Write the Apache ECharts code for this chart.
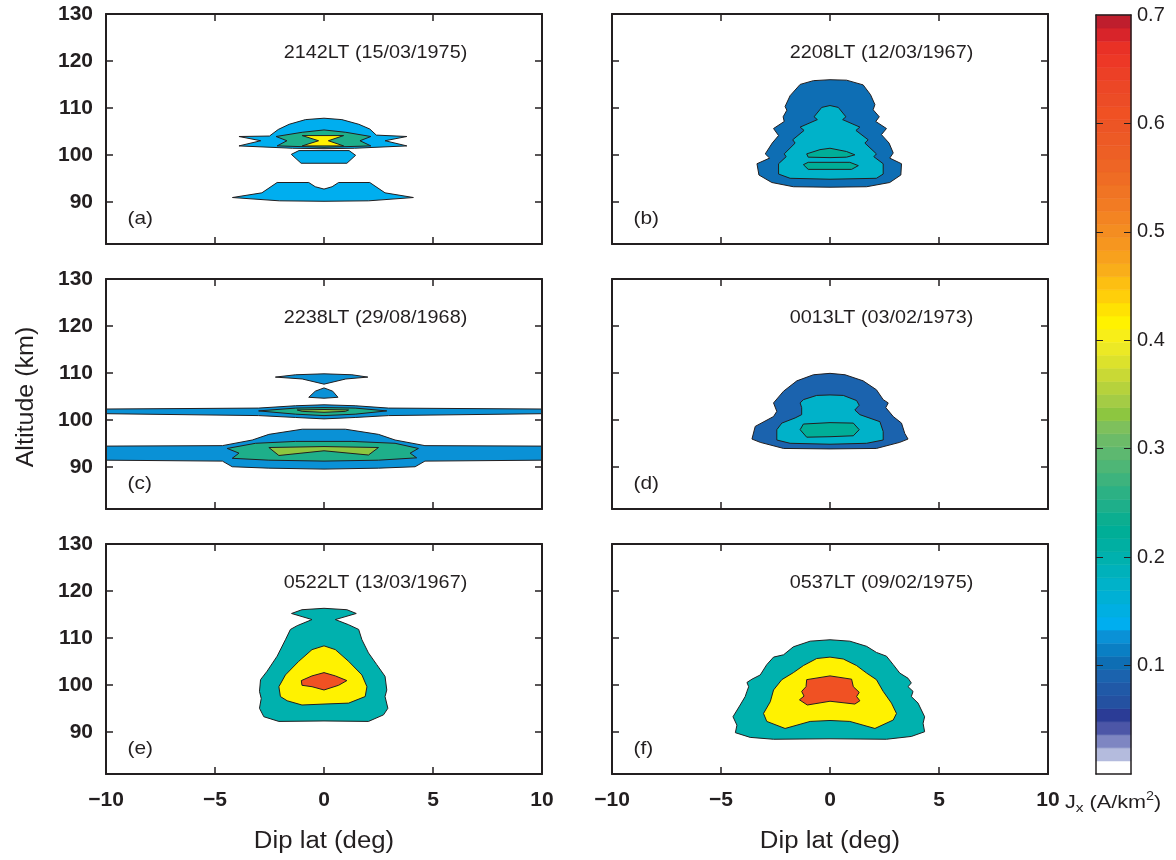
<!DOCTYPE html>
<html>
<head>
<meta charset="utf-8">
<script src="https://cdn.jsdelivr.net/npm/echarts@6/dist/echarts.min.js"></script>
<style>
  html, body { margin: 0; padding: 0; background: #ffffff; }
  #chart { width: 1176px; height: 860px; }
</style>
</head>
<body>
<div id="chart"></div>
<script>
// ---- Labels and ticks ----
const panelTitles = [
  '2142LT (15/03/1975)', '2208LT (12/03/1967)',
  '2238LT (29/08/1968)', '0013LT (03/02/1973)',
  '0522LT (13/03/1967)', '0537LT (09/02/1975)'
];
const panelTags = ['(a)', '(b)', '(c)', '(d)', '(e)', '(f)'];
const latTicks = [-5, 0, 5];
const altTicks = [90, 100, 110, 120];
const altLabels = [90, 100, 110, 120, 130];
const jxTicks = [0.1, 0.2, 0.3, 0.4, 0.5, 0.6];
const jxLabels = [0.1, 0.2, 0.3, 0.4, 0.5, 0.6, 0.7];
const jxMax = 0.7;
const jxBandCount = 58;

// Colour table of the Jx scale, one entry per band (low to high)
const jxPalette = [
  '#ffffff', '#b4bbdd', '#7e86c2', '#4c56a7', '#2b3c96', '#2451a1', '#2059a7', '#1b63ae',
  '#0e6eb4', '#0a7fc4', '#0a91d6', '#00aeef', '#00afe2', '#00b0d5', '#00b2c9', '#00b1bb',
  '#00b1ae', '#00afa2', '#00ae97', '#0cae90', '#1eaf8a', '#2cb184', '#3db37d', '#4eb676',
  '#5db870', '#6cbb68', '#7ec05c', '#8dc640', '#a4cc45', '#b6d23c', '#c9d935', '#dce22c',
  '#ece925', '#f8ee18', '#fff200', '#ffe203', '#ffcf0a', '#fdbf12', '#f9ae1a', '#f8a11d',
  '#f6961f', '#f48d21', '#f38422', '#f27b23', '#f07424', '#ef6c24', '#ee6525', '#ed5f25',
  '#ed5a25', '#ec5525', '#f05123', '#ec4c26', '#ec4726', '#ec4026', '#ed3826', '#e93126',
  '#d8242a', '#bf1e2d'
];

// ---- Jx contour regions, [dip lat (deg), altitude (km)] ----
// (a) 2142LT
const aUpper = [[-3.9,103.9],[-2.5,104.0],[-2.1,105.4],[-1.6,106.5],[-0.85,107.5],[0,107.8],[0.82,107.5],[1.6,106.5],[2.1,105.5],[2.4,104.2],[3.8,103.9],[2.8,103.0],[3.8,101.9],[1.4,101.4],[0,101.3],[-1.45,101.4],[-3.9,101.9],[-2.9,103.0]];
const aGreen = [[-2.2,103.9],[-1.0,104.8],[0,105.3],[1.0,104.8],[2.15,103.9],[1.65,103.0],[2.15,101.9],[0,101.6],[-2.15,101.9],[-1.7,103.0]];
const aYellow = [[-1.0,104.1],[0.9,104.1],[0.2,103.0],[0.9,101.9],[-1.0,101.9],[-0.25,103.0]];
const aLobe = [[-1.5,100.1],[-1.15,100.9],[1.15,100.9],[1.45,99.9],[1.05,98.2],[-1.05,98.2]];
const aLower = [[-4.2,90.9],[-2.85,91.9],[-2.15,94.1],[-0.7,94.1],[-0.4,93.2],[0,92.7],[0.37,93.2],[0.67,94.1],[2.1,94.1],[2.8,91.9],[4.1,90.9],[2.05,90.2],[0,90.1],[-2.05,90.2]];
// (b) 2208LT
const bOuter = [[0,116.0],[0.76,115.9],[1.52,114.9],[1.86,112.8],[2.06,110.7],[1.98,109.6],[2.26,108.1],[2.1,107.1],[2.59,105.6],[2.36,104.3],[2.71,102.5],[2.9,100.4],[2.74,99.3],[3.28,98.1],[3.25,95.7],[2.74,94.1],[1.68,93.2],[0,93.1],[-1.68,93.2],[-2.67,94.1],[-3.26,95.7],[-3.35,98.1],[-2.77,99.3],[-2.97,100.2],[-2.65,102.5],[-2.36,104.1],[-2.59,105.6],[-2.1,107.1],[-2.15,108.1],[-1.98,109.5],[-2.06,110.3],[-1.83,112.6],[-1.37,115.0],[-0.76,115.8]];
const bMid = [[0,110.5],[0.38,110.1],[0.73,108.1],[0.58,107.5],[1.37,105.9],[1.19,105.2],[1.75,103.2],[1.6,102.5],[2.13,100.2],[2.01,99.6],[2.44,98.1],[2.44,95.9],[2.13,95.0],[0,94.8],[-1.83,95.0],[-2.36,95.9],[-2.36,98.1],[-2.01,99.6],[-2.1,100.2],[-1.6,102.5],[-1.71,103.2],[-1.19,105.2],[-1.37,105.9],[-0.58,107.5],[-0.73,108.1],[-0.38,110.1]];
const bInnerUp = [[-1.07,100.2],[-0.46,101.1],[0,101.4],[0.76,100.7],[1.14,100.0],[0.76,99.5],[0,99.4],[-1.0,99.5]];
const bInnerLow = [[-1.22,97.9],[-1.0,98.4],[0.91,98.4],[1.3,97.7],[0.99,96.9],[-1.0,96.9]];
// (c) 2238LT
const cUpperBand = [[-10,102.3],[-3.0,102.5],[-1.3,103.0],[0,103.2],[1.43,103.0],[2.96,102.5],[10,102.3],[10,101.3],[2.96,100.9],[1.43,100.5],[0,100.2],[-1.3,100.5],[-3.0,100.9],[-10,101.3]];
const cUpperGreen = [[-3.0,101.9],[-1.3,102.5],[0,102.6],[1.43,102.5],[2.88,101.9],[1.43,101.2],[0,100.9],[-1.3,101.2]];
const cUpperLime = [[-1.23,102.1],[0,102.2],[1.13,102.1],[0.98,101.8],[0,101.6],[-1.0,101.8]];
const cLens = [[-2.23,109.1],[-1.3,109.6],[0,109.8],[1.28,109.6],[2.01,109.1],[1.0,108.7],[0,107.6],[-1.0,108.7]];
const cDome = [[-0.7,104.8],[-0.4,106.1],[0,106.8],[0.4,106.1],[0.64,104.8],[0,104.6]];
const cLowerBand = [[-10,94.4],[-4.66,94.5],[-3.29,95.7],[-2.53,96.9],[-1.0,98.0],[0.98,98.0],[2.5,96.9],[3.26,95.7],[4.63,94.5],[10,94.4],[10,91.4],[4.63,91.2],[4.18,90.0],[2.5,89.7],[0,89.5],[-2.53,89.7],[-4.21,90.0],[-4.66,91.2],[-10,91.4]];
const cLowerGreen = [[-4.44,93.9],[-3.14,95.0],[-1.3,95.4],[0,95.4],[1.28,95.4],[3.26,95.0],[4.33,93.9],[3.95,92.9],[4.25,91.9],[2.5,91.4],[0,91.2],[-2.53,91.4],[-4.21,91.8],[-3.9,92.9]];
const cLowerLime = [[-2.53,94.1],[0,94.3],[2.5,94.1],[2.04,92.5],[0,93.4],[-2.07,92.4]];
// (d) 0013LT
const dOuter = [[0,109.9],[0.69,109.6],[1.52,108.3],[2.13,106.4],[2.44,104.3],[2.67,103.6],[2.56,102.6],[2.9,100.7],[3.28,99.3],[3.43,97.1],[3.58,95.9],[3.2,95.2],[2.13,93.9],[0,93.8],[-2.13,93.9],[-3.2,95.2],[-3.58,95.9],[-3.43,98.6],[-2.59,100.7],[-2.44,101.8],[-2.59,103.6],[-2.13,106.1],[-1.52,108.3],[-0.76,109.6]];
const dMid = [[0,105.3],[0.61,105.2],[1.22,104.1],[1.34,103.1],[1.14,102.1],[1.37,101.1],[2.29,99.6],[2.44,97.5],[2.44,95.7],[1.68,95.0],[0,94.8],[-1.83,95.0],[-2.44,95.7],[-2.44,97.9],[-2.21,99.3],[-1.6,100.4],[-1.3,101.1],[-1.3,102.6],[-1.37,103.6],[-1.22,104.3],[-0.61,105.2]];
const dInner = [[-1.22,99.1],[0,99.4],[1.07,99.3],[1.34,97.9],[1.07,96.6],[0,96.4],[-1.07,96.3],[-1.37,97.9]];
// (e) 0522LT
const eOuter = [[-1.49,115.2],[-1.01,116.0],[0,116.3],[1.05,116.0],[1.48,115.2],[0.52,113.9],[1.13,112.8],[1.59,111.8],[1.74,109.6],[2.04,106.8],[2.42,104.3],[2.8,101.8],[2.88,98.9],[2.8,97.5],[2.93,95.0],[2.73,93.6],[2.04,92.2],[0,92.3],[-2.07,92.2],[-2.76,93.2],[-2.96,95.0],[-2.88,97.1],[-2.96,98.6],[-2.91,101.1],[-2.61,102.9],[-2.15,106.1],[-1.77,109.6],[-1.54,111.8],[-1.23,112.6],[-0.55,113.9]];
const eYellow = [[0,108.3],[0.52,107.5],[1.13,105.0],[1.74,102.1],[1.97,99.6],[1.89,97.5],[1.13,96.1],[0,95.9],[-1.01,95.7],[-1.69,96.6],[-2.0,97.5],[-2.07,99.6],[-1.77,102.1],[-1.16,105.0],[-0.55,107.5]];
const eRed = [[-1.04,100.9],[-0.55,101.9],[0,102.6],[0.52,101.9],[1.05,100.9],[0.67,99.9],[0,98.9],[-0.55,99.6],[-1.01,99.9]];
// (f) 0537LT
const fOuter = [[0,109.6],[0.91,109.3],[1.68,108.2],[2.13,106.9],[2.59,106.1],[2.9,104.3],[3.2,102.5],[3.58,101.4],[3.73,100.4],[3.58,99.6],[3.81,98.6],[3.73,97.5],[4.04,96.1],[4.34,93.2],[4.27,91.8],[4.34,90.0],[3.73,89.0],[2.59,88.4],[0,88.5],[-2.59,88.4],[-3.66,88.8],[-4.34,89.8],[-4.27,91.4],[-4.45,93.2],[-4.12,95.7],[-3.89,97.5],[-3.81,98.6],[-3.73,99.6],[-3.81,100.5],[-3.58,101.2],[-3.2,102.1],[-2.9,104.3],[-2.59,105.9],[-2.13,106.4],[-1.68,108.1],[-0.91,109.3]];
const fYellow = [[0,105.9],[0.61,105.5],[1.22,104.1],[1.68,102.5],[2.13,101.1],[2.44,98.6],[2.82,96.1],[3.05,93.9],[2.9,92.5],[2.06,90.7],[0.91,92.2],[0,92.4],[-0.91,92.2],[-2.06,90.7],[-2.9,92.2],[-3.05,93.9],[-2.74,96.4],[-2.59,98.9],[-2.21,101.1],[-1.68,102.6],[-1.22,104.1],[-0.61,105.6]];
const fRed = [[-1.07,101.1],[0,101.9],[0.99,101.2],[1.07,99.6],[1.34,98.4],[1.22,97.5],[1.37,96.6],[1.14,95.9],[0,96.5],[-1.04,95.7],[-1.4,96.8],[-1.19,97.6],[-1.3,98.6],[-1.1,99.6]];

// Filled regions per panel, drawn in order; level is Jx in A/km^2
const panels = [
  [{ level: 0.14, ring: aUpper }, { level: 0.25, ring: aGreen }, { level: 0.415, ring: aYellow },
   { level: 0.14, ring: aLobe }, { level: 0.14, ring: aLower }],
  [{ level: 0.10, ring: bOuter }, { level: 0.175, ring: bMid },
   { level: 0.22, ring: bInnerUp }, { level: 0.22, ring: bInnerLow }],
  [{ level: 0.127, ring: cUpperBand }, { level: 0.25, ring: cUpperGreen }, { level: 0.33, ring: cUpperLime },
   { level: 0.127, ring: cLens }, { level: 0.127, ring: cDome },
   { level: 0.127, ring: cLowerBand }, { level: 0.25, ring: cLowerGreen }, { level: 0.33, ring: cLowerLime }],
  [{ level: 0.09, ring: dOuter }, { level: 0.175, ring: dMid }, { level: 0.22, ring: dInner }],
  [{ level: 0.20, ring: eOuter }, { level: 0.415, ring: eYellow }, { level: 0.61, ring: eRed }],
  [{ level: 0.20, ring: fOuter }, { level: 0.415, ring: fYellow }, { level: 0.61, ring: fRed }]
];

// ---- Layout and style ----
const INK = '#231f20';
const FONT = '"Liberation Sans", Arial, Helvetica, sans-serif';
const colLeft = [106, 612];
const rowTop = [14, 279, 544];
const panelW = 436, panelH = 230;
const jxStep = jxMax / jxBandCount;

function jxColor(v) {
  const k = Math.min(jxBandCount - 1, Math.max(0, Math.floor(v / jxStep)));
  return jxPalette[k];
}
function latFormat(v) {
  return v < 0 ? '\u2212' + Math.abs(v) : String(v);
}

const grids = [], xAxes = [], yAxes = [], series = [], graphics = [];

panels.forEach((shapes, i) => {
  const row = Math.floor(i / 2), col = i % 2;
  grids.push({ left: colLeft[col], top: rowTop[row], width: panelW, height: panelH, containLabel: false });

  const line = { show: true, onZero: false, lineStyle: { color: INK, width: 2 } };
  const xTick = { show: true, inside: true, length: 7, customValues: latTicks, lineStyle: { color: INK, width: 1.5 } };
  const yTick = { show: true, inside: true, length: 7, customValues: altTicks, lineStyle: { color: INK, width: 1.5 } };

  xAxes.push({
    gridIndex: i, type: 'value', min: -10, max: 10, interval: 5, position: 'bottom', z: 5,
    axisLine: line, axisTick: xTick, splitLine: { show: false },
    axisLabel: { show: row === 2, margin: 16, fontSize: 21, fontWeight: 'bold', fontFamily: FONT, color: INK, formatter: latFormat }
  });
  xAxes.push({
    gridIndex: i, type: 'value', min: -10, max: 10, interval: 5, position: 'top', z: 5,
    axisLine: line, axisTick: xTick, splitLine: { show: false }, axisLabel: { show: false }
  });
  yAxes.push({
    gridIndex: i, type: 'value', min: 81, max: 130, position: 'left', z: 5,
    axisLine: line, axisTick: yTick, splitLine: { show: false },
    axisLabel: { show: col === 0, customValues: altLabels, margin: 13, fontSize: 21, fontWeight: 'bold', fontFamily: FONT, color: INK }
  });
  yAxes.push({
    gridIndex: i, type: 'value', min: 81, max: 130, position: 'right', z: 5,
    axisLine: line, axisTick: yTick, splitLine: { show: false }, axisLabel: { show: false }
  });

  series.push({
    type: 'custom', coordinateSystem: 'cartesian2d', xAxisIndex: 2 * i, yAxisIndex: 2 * i,
    silent: true, z: 2,
    data: shapes.map(s => [s.ring[0][0], s.ring[0][1]]),
    renderItem: (params, api) => {
      const s = shapes[params.dataIndex];
      return {
        type: 'polygon',
        shape: { points: s.ring.map(p => api.coord(p)) },
        style: { fill: jxColor(s.level), stroke: INK, lineWidth: 1 }
      };
    }
  });

  graphics.push({
    type: 'text', z: 100, x: colLeft[col] + 269.5, y: rowTop[row] + 39, scaleX: 1.1,
    style: { text: panelTitles[i], fontSize: 18, fontFamily: FONT, fill: INK, align: 'center', verticalAlign: 'middle' }
  });
  graphics.push({
    type: 'text', z: 100, x: colLeft[col] + 21.5, y: rowTop[row] + 205, scaleX: 1.1,
    style: { text: panelTags[i], fontSize: 19, fontFamily: FONT, fill: INK, align: 'left', verticalAlign: 'middle' }
  });
});

// ---- Colour scale ----
const cb = panels.length;
grids.push({ left: 1096, top: 15, width: 35, height: 759, containLabel: false });
const cbLine = { show: true, onZero: false, lineStyle: { color: INK, width: 1.5 } };
const cbTick = { show: true, inside: true, length: 7, customValues: jxTicks, lineStyle: { color: INK, width: 1 } };
xAxes.push({ gridIndex: cb, type: 'value', min: 0, max: 1, position: 'bottom', z: 5, axisLine: cbLine, axisTick: { show: false }, axisLabel: { show: false }, splitLine: { show: false } });
xAxes.push({ gridIndex: cb, type: 'value', min: 0, max: 1, position: 'top', z: 5, axisLine: cbLine, axisTick: { show: false }, axisLabel: { show: false }, splitLine: { show: false } });
yAxes.push({ gridIndex: cb, type: 'value', min: 0, max: jxMax, position: 'left', z: 5, axisLine: cbLine, axisTick: cbTick, axisLabel: { show: false }, splitLine: { show: false } });
yAxes.push({
  gridIndex: cb, type: 'value', min: 0, max: jxMax, position: 'right', z: 5, axisLine: cbLine, axisTick: cbTick, splitLine: { show: false },
  axisLabel: { show: true, customValues: jxLabels, margin: 6, fontSize: 20, fontFamily: FONT, color: INK, formatter: v => v.toFixed(1) }
});
series.push({
  type: 'custom', coordinateSystem: 'cartesian2d', xAxisIndex: 2 * cb, yAxisIndex: 2 * cb, silent: true, z: 2,
  data: jxPalette.map((c, k) => [0.5, k * jxStep]),
  renderItem: (params, api) => {
    const k = params.dataIndex;
    const lo = k * jxStep, hi = Math.min(jxMax, (k + 1) * jxStep);
    const p0 = api.coord([0, hi]), p1 = api.coord([1, lo]);
    return {
      type: 'rect',
      shape: { x: p0[0], y: p0[1], width: p1[0] - p0[0], height: p1[1] - p0[1] },
      style: { fill: jxPalette[k], stroke: jxPalette[k], lineWidth: 0.6 }
    };
  }
});

// ---- Axis titles and unit ----
graphics.push({
  type: 'text', z: 100, x: 27, y: 397, rotation: Math.PI / 2, scaleX: 1.09,
  style: { text: 'Altitude (km)', fontSize: 23, fontFamily: FONT, fill: INK, align: 'center', verticalAlign: 'middle' }
});
colLeft.forEach(l => {
  graphics.push({
    type: 'text', z: 100, x: l + panelW / 2, y: 842, scaleX: 1.12,
    style: { text: 'Dip lat (deg)', fontSize: 23, fontFamily: FONT, fill: INK, align: 'center', verticalAlign: 'middle' }
  });
});
graphics.push({
  type: 'text', z: 100, x: 1065, y: 803, scaleX: 1.2,
  style: {
    text: '{n|J}{s|x}{n| (A/km}{p|2}{n|)}', align: 'left', verticalAlign: 'middle', fill: INK, fontFamily: FONT,
    rich: {
      n: { fontSize: 18, lineHeight: 24, fontFamily: FONT, fill: INK },
      s: { fontSize: 13, lineHeight: 16, verticalAlign: 'bottom', fontFamily: FONT, fill: INK },
      p: { fontSize: 12, lineHeight: 12, verticalAlign: 'top', fontFamily: FONT, fill: INK }
    }
  }
});

const chart = echarts.init(document.getElementById('chart'), null, { renderer: 'canvas' });
chart.setOption({
  animation: false,
  backgroundColor: '#ffffff',
  grid: grids,
  xAxis: xAxes,
  yAxis: yAxes,
  series: series,
  graphic: { elements: graphics }
});
</script>
</body>
</html>
